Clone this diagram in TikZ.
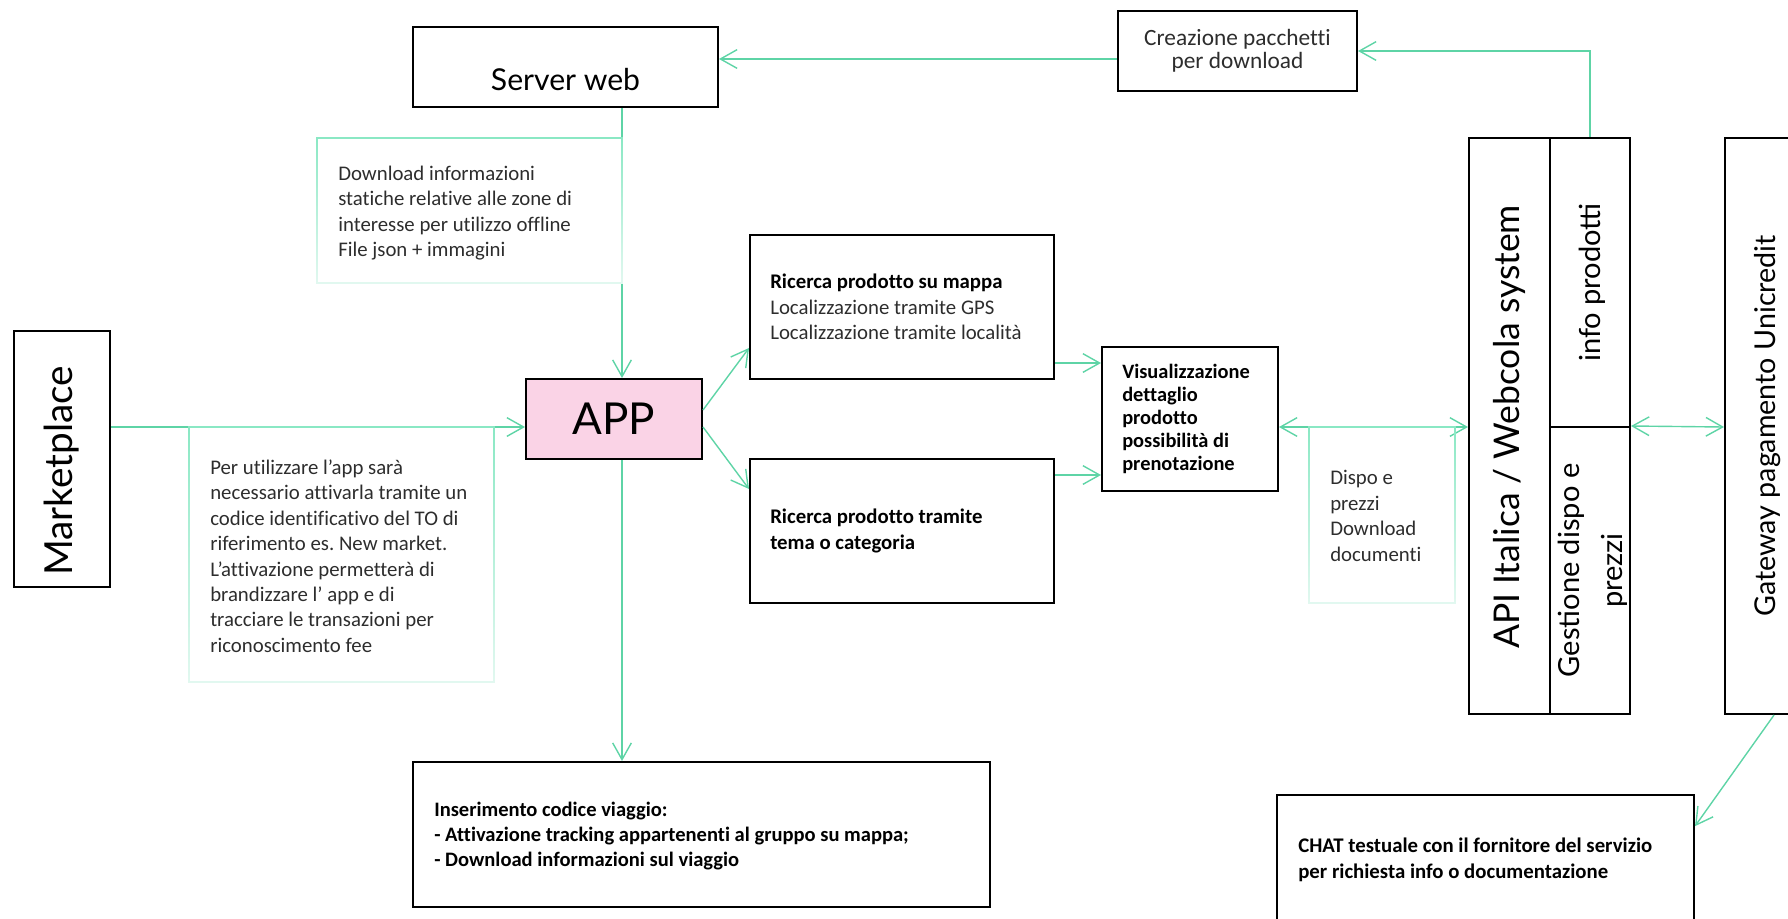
\documentclass[tikz,border=0pt]{standalone}
\usepackage{fontspec}
\setmainfont{Carlito}[Ligatures=NoCommon]
\newfontfamily\headfont{Lato}
\usetikzlibrary{arrows.meta}
\definecolor{mint}{RGB}{94,212,166}
\definecolor{notetop}{RGB}{138,232,196}
\definecolor{notebottom}{RGB}{226,248,240}
\definecolor{apppink}{RGB}{250,211,230}
\definecolor{notetext}{RGB}{45,45,45}
\frenchspacing
\begin{document}
\begin{tikzpicture}[x=0.75pt,y=-0.75pt,
  box/.style={draw=black, line width=1.5pt, inner sep=0pt},
  flow/.style={draw=mint, line width=1.05pt, -{Straight Barb[length=12.5pt,width=14pt]}},
  twoway/.style={draw=mint, line width=1.05pt, {Straight Barb[length=12.5pt,width=14pt]}-{Straight Barb[length=12.5pt,width=14pt]}},
  body/.style={font=\fontsize{15.6}{19.1}\selectfont, align=left, inner sep=0pt, anchor=west},
  note/.style={body, text=notetext},
  notebox/.style={top color=notetop, bottom color=notebottom, even odd rule},
]
\useasboundingbox (0,0) rectangle (1788,918);
\clip (0,0) rectangle (1788,918);

% reference lines for the main connectors
\coordinate (trunk) at (622,0);
\coordinate (mainrow) at (0,427);

% boxes
\node[box, minimum width=228.75pt, minimum height=60pt] (server) at (565.5,67) {};
\node[font=\headfont\fontsize{22.6}{27}\selectfont, inner sep=0pt] (serverlbl) at (565.5,80) {Server web};

\node[box, minimum width=179.25pt, minimum height=60pt, align=center,
      font=\fontsize{17.5}{17}\selectfont, text=notetext] (creazione) at (1237.5,51)
      {Creazione pacchetti\\per download};

\node[box, minimum width=72pt, minimum height=192pt] (market) at (62,459) {};
\node[font=\headfont\fontsize{29}{33}\selectfont, rotate=90, inner sep=0pt] (marketlbl) at (62,471) {Marketplace};

\node[box, fill=apppink, minimum width=132pt, minimum height=60pt,
      font=\headfont\fontsize{33}{38}\selectfont] (app) at (614,419) {APP};

\node[box, minimum width=228pt, minimum height=108pt] (mappa) at (902,307) {};
\node[body] (mappatxt) at (770,307) {\textbf{Ricerca prodotto su mappa}\\\textcolor{notetext}{Localizzazione tramite GPS}\\\textcolor{notetext}{Localizzazione tramite località}};

\node[box, minimum width=228pt, minimum height=108pt] (tema) at (902,531) {};
\node[body, font=\bfseries\fontsize{15.6}{19.1}\selectfont] (tematxt) at (770,531) {Ricerca prodotto tramite\\tema o categoria};

\node[box, minimum width=132pt, minimum height=108pt] (vis) at (1190,419) {};
\node[body, font=\bfseries\fontsize{15.3}{17.3}\selectfont] (vistxt) at (1122,419) {Visualizzazione\\dettaglio\\prodotto\\possibilità di\\prenotazione};

\node[box, minimum width=60.75pt, minimum height=432pt] (apimain) at (1509.5,426) {};
\node[font=\headfont\fontsize{26.6}{31}\selectfont, rotate=90, inner sep=0pt] (apilbl) at (1509.5,427) {API Italica / Webcola system};
\node[box, minimum width=60pt, minimum height=216.75pt] (info) at (1590,282.5) {};
\node[font=\headfont\fontsize{21.8}{26}\selectfont, rotate=90, inner sep=0pt] (infolbl) at (1592,282.5) {info prodotti};
\node[box, minimum width=60pt, minimum height=215.25pt] (gest) at (1590,570.5) {};
\node[font=\headfont\fontsize{21.8}{32}\selectfont, rotate=90, inner sep=0pt, align=center] (gestlbl) at (1593,570.5) {Gestione dispo e\\prezzi};

\node[box, minimum width=63.75pt, minimum height=432pt] (gateway) at (1767.5,426) {};
\node[font=\headfont\fontsize{21.5}{26}\selectfont, rotate=90, inner sep=0pt] (gatewaylbl) at (1768,426) {Gateway pagamento Unicredit};

\node[box, minimum width=432.75pt, minimum height=108.75pt] (ins) at (701.5,834.5) {};
\node[body, font=\bfseries\fontsize{15.4}{18.6}\selectfont] (instxt) at (434,836) {Inserimento codice viaggio:\\- Attivazione tracking appartenenti al gruppo su mappa;\\- Download informazioni sul viaggio};

\node[box, minimum width=312.75pt, minimum height=108.75pt] (chat) at (1485.5,867.5) {};
\node[body, font=\bfseries\fontsize{15.6}{19.5}\selectfont] (chattxt) at (1298,860) {CHAT testuale con il fornitore del servizio\\per richiesta info o documentazione};

% connectors
\draw[flow] (info.north) |- (creazione.east);
\draw[flow] ([yshift=-6pt]creazione.west) coordinate (c1) -- (c1 -| server.east);
\draw[flow] (trunk |- server.south) -- (trunk |- app.north);
\draw[flow] (market.east |- mainrow) -- (app.west |- mainrow);
\draw[flow] ([yshift=6.75pt]app.east) -- ([yshift=-30.75pt]mappa.west);
\draw[flow] ([yshift=-6pt]app.east) -- ([yshift=31.5pt]tema.west);
\draw[flow] (trunk |- app.south) -- (trunk |- ins.north);
\draw[flow] ([yshift=-42pt]mappa.east) coordinate (m1) -- (m1 -| vis.west);
\draw[flow] ([yshift=42pt]tema.east) coordinate (t1) -- (t1 -| vis.west);
\draw[twoway] (vis.east |- mainrow) -- (apimain.west |- mainrow);
\draw[twoway] (gest.north east) -- (gateway.west |- mainrow);
\draw[flow] ([xshift=4.9pt]gateway.south) -- ([yshift=31pt]chat.east);

% light note frames, laid over the connectors they sit on
\shade[notebox] (316.1,137.1) rectangle (622.9,283.9) (317.9,138.9) rectangle (621.1,282.1);
\shade[notebox] (188.1,426.1) rectangle (494.9,682.9) (189.9,427.9) rectangle (493.1,681.1);
\shade[notebox] (1308.1,426.1) rectangle (1455.9,603.9) (1309.9,427.9) rectangle (1454.1,602.1);

% note texts
\node[note] (note1) at (338,213) {Download informazioni\\statiche relative alle zone di\\interesse per utilizzo offline\\File json + immagini};
\node[note] (note2) at (210,556) {Per utilizzare l’app sarà\\necessario attivarla tramite un\\codice identificativo del TO di\\riferimento es. New market.\\L’attivazione permetterà di\\brandizzare l’ app e di\\tracciare le transazioni per\\riconoscimento fee};
\node[note] (note3) at (1330,516) {Dispo e\\prezzi\\Download\\documenti};
\end{tikzpicture}
\end{document}
